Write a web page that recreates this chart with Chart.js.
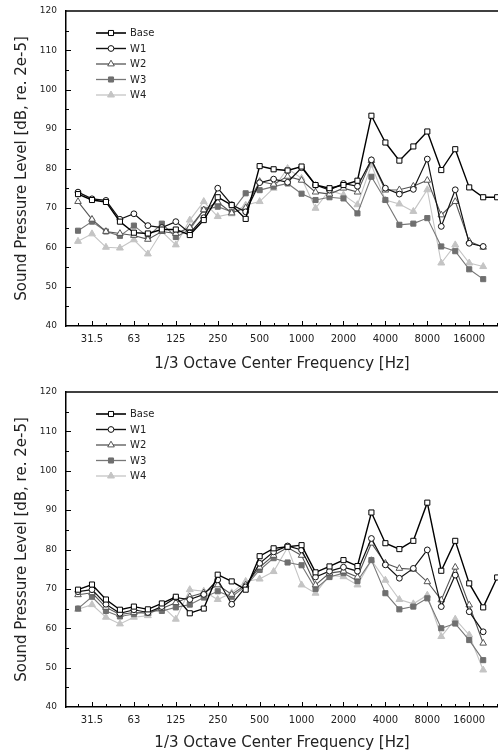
<!DOCTYPE html>
<html>
<head>
<meta charset="utf-8">
<script src="https://cdn.jsdelivr.net/npm/chart.js@4/dist/chart.umd.min.js"></script>
<style>
  body { margin: 0; background: #fff; }
  .box { position: absolute; left: 0; width: 498px; height: 376px; }
</style>
</head>
<body>
<div class="box" style="top:0"><canvas id="chartTop"></canvas></div>
<div class="box" style="top:376px"><canvas id="chartBottom"></canvas></div>
<script>
// 1/3 octave bands, index 0 = 25 Hz
const bands = ['25', '31.5', '40', '50', '63', '80', '100', '125', '160', '200', '250', '315', '400', '500',
  '630', '800', '1000', '1250', '1600', '2000', '2500', '3150', '4000', '5000', '6300', '8000',
  '10000', '12500', '16000', '20000', '25000'];
const tickLabels = ['31.5', '63', '125', '250', '500', '1000', '2000', '4000', '8000', '16000'];
const seriesNames = ['Base', 'W1', 'W2', 'W3', 'W4'];

// upper panel (dB)
const topBase = [73.5, 72, 71.5, 66.5, 63.7, 63.5, 64.5, 64.5, 63.1, 66.9, 72.7, 70.7, 67.2, 80.6, 79.8,
  79.5, 80.5, 75.8, 75, 75.8, 76.9, 93.4, 86.6, 82, 85.6, 89.4, 79.6, 84.9, 75.2, 72.7, 72.7];
const topW1 = [74, 72.3, 71.9, 67.1, 68.5, 65.5, 65, 66.5, 63.6, 67.5, 75, 70.8, 69, 76.4, 77.3,
  76.5, 80.2, 75.8, 74.5, 76.2, 75.5, 82.2, 75, 73.5, 74.7, 82.4, 65.3, 74.6, 61, 60.2];
const topW2 = [71.6, 67.1, 64, 63.5, 63, 62, 64, 63.5, 65, 69.5, 71.5, 68.7, 70, 76.7, 76,
  78, 77, 74, 73.5, 75, 74, 82, 74.5, 74.6, 75.5, 77, 68.2, 71.6, 61.5, 60];
const topW3 = [64.2, 66.5, 64, 62.9, 65.5, 62.7, 66, 62.6, 64.5, 69.5, 70.3, 69, 73.7, 74.5, 75.4,
  76.2, 73.6, 72, 72.7, 72.4, 68.6, 77.9, 72, 65.7, 66, 67.4, 60.2, 59, 54.4, 51.9];
const topW4 = [61.5, 63.4, 60, 59.8, 61.9, 58.3, 64, 60.6, 66.9, 71.6, 67.8, 68.5, 70.7, 71.6, 75,
  80, 77.5, 69.9, 74.5, 73.3, 70.8, 80.9, 72, 71, 69.1, 74.6, 56, 60.6, 56, 55.1];

// lower panel (dB)
const botBase = [69.8, 71.1, 67.3, 64.7, 65.5, 64.8, 66.3, 68, 63.8, 65, 73.6, 71.9, 69.8, 78.3, 80.3,
  80.7, 81.1, 74.2, 75.7, 77.3, 75.8, 89.4, 81.6, 80.1, 82.2, 91.9, 74.6, 82.2, 71.4, 65.3, 72.9];
const botW1 = [69.3, 69.8, 66.1, 63.8, 64.7, 64, 65.5, 67.8, 67.3, 68.6, 72.3, 66.1, 70.5, 76.5, 79.4,
  80.9, 79.9, 73, 74.5, 75.5, 74.5, 82.8, 76.1, 72.7, 75.2, 79.9, 65.5, 73.5, 64.2, 59.1];
const botW2 = [68.5, 69, 65.3, 63.5, 64, 63.8, 65, 66.5, 68, 69, 71, 68.6, 71, 75.5, 78.5,
  80.5, 78.5, 71, 74, 74.5, 73, 81.6, 76.5, 75.2, 75, 71.8, 67.2, 75.5, 65.9, 56.2];
const botW3 = [65, 68, 64.4, 63, 63.6, 64.4, 64.4, 65.3, 66, 67.8, 69.4, 68, 70.7, 74.8, 77.8,
  76.7, 76, 70, 73, 74, 72, 77.3, 68.9, 64.8, 65.5, 67.6, 60, 61.2, 57, 51.9];
const botW4 = [64.8, 66, 62.8, 61.1, 62.8, 63.2, 65.7, 62.3, 69.8, 69.4, 67.3, 69, 71.9, 72.5, 74.4,
  80.5, 71, 68.9, 73.5, 73.1, 71, 77.3, 72.2, 67.3, 66.2, 68.4, 57.9, 62.3, 58.3, 49.4];

const looks = [
  { line: '#000', point: 'rect', fill: '#fff', edge: '#000', r: 3.6, w: 1.4 },
  { line: '#111', point: 'circle', fill: '#fff', edge: '#111', r: 2.9, w: 1.2 },
  { line: '#555', point: 'triangle', fill: '#fff', edge: '#555', r: 3.8, w: 1.1 },
  { line: '#777', point: 'rect', fill: '#6f6f6f', edge: '#6f6f6f', r: 3.6, w: 1.1 },
  { line: '#c4c4c4', point: 'triangle', fill: '#c4c4c4', edge: '#c4c4c4', r: 4, w: 1.1 }
];

function marker(ctx, look, x, y) {
  const r = look.r;
  ctx.beginPath();
  if (look.point === 'circle') {
    ctx.arc(x, y, r, 0, Math.PI * 2);
  } else if (look.point === 'rect') {
    const s = r * Math.SQRT1_2;
    ctx.rect(x - s, y - s, 2 * s, 2 * s);
  } else {
    const h = r * 1.5;
    ctx.moveTo(x, y - r);
    ctx.lineTo(x + h * 0.58, y + r * 0.5);
    ctx.lineTo(x - h * 0.58, y + r * 0.5);
    ctx.closePath();
  }
  ctx.fillStyle = look.fill;
  ctx.fill();
  ctx.strokeStyle = look.edge;
  ctx.lineWidth = 1;
  ctx.stroke();
}

// top border, inward ticks and the in-plot legend
const frame = {
  id: 'frame',
  afterDraw(chart) {
    const { ctx, chartArea: a, scales: { x, y } } = chart;
    ctx.save();
    ctx.strokeStyle = '#000';
    ctx.lineWidth = 1.5;
    ctx.beginPath();
    ctx.moveTo(a.left, a.top);
    ctx.lineTo(a.right, a.top);
    ctx.stroke();

    ctx.lineWidth = 1;
    ctx.beginPath();
    bands.forEach((b, i) => {
      const px = Math.round(x.getPixelForValue(i)) + 0.5;
      const len = tickLabels.includes(b) ? 5 : 3;
      ctx.moveTo(px, a.bottom);
      ctx.lineTo(px, a.bottom - len);
    });
    for (let v = 45; v < 120; v += 5) {
      const py = Math.round(y.getPixelForValue(v)) + 0.5;
      const len = v % 10 === 0 ? 5 : 3;
      ctx.moveTo(a.left, py);
      ctx.lineTo(a.left + len, py);
    }
    ctx.stroke();

    ctx.font = '10px "DejaVu Sans"';
    ctx.textBaseline = 'middle';
    seriesNames.forEach((name, k) => {
      const look = looks[k];
      const ly = a.top + 22 + k * 15.5;
      const lx = a.left + 30;
      ctx.strokeStyle = look.line;
      ctx.lineWidth = look.w + 0.2;
      ctx.beginPath();
      ctx.moveTo(lx, ly);
      ctx.lineTo(lx + 30, ly);
      ctx.stroke();
      marker(ctx, look, lx + 15, ly);
      ctx.fillStyle = '#222';
      ctx.fillText(name, lx + 34, ly + 0.5);
    });
    ctx.restore();
  }
};

function makeChart(id, series, topPad, titlePad) {
  const ctx = document.getElementById(id).getContext('2d');
  return new Chart(ctx, {
    type: 'line',
    data: {
      datasets: series.map((vals, k) => ({
        label: seriesNames[k],
        data: vals.map((v, i) => ({ x: i, y: v })),
        borderColor: looks[k].line,
        borderWidth: looks[k].w,
        pointStyle: looks[k].point,
        pointRadius: looks[k].r,
        pointBackgroundColor: looks[k].fill,
        pointBorderColor: looks[k].edge,
        pointBorderWidth: 1,
        tension: 0,
        order: k
      })).reverse()
    },
    options: {
      responsive: true,
      maintainAspectRatio: false,
      animation: false,
      layout: { autoPadding: false, padding: { top: topPad, right: 0, left: 0, bottom: 0 } },
      plugins: { legend: { display: false }, tooltip: { enabled: false } },
      scales: {
        x: {
          type: 'linear',
          min: -0.86,
          max: 30.06,
          afterBuildTicks: (s) => {
            s.ticks = tickLabels.map((t) => ({ value: bands.indexOf(t) }));
          },
          afterFit: (s) => {
            s.height = 376 - 326 - topPad + 11;
            s.paddingLeft = 0;
            s.paddingRight = 0;
          },
          ticks: {
            autoSkip: false,
            maxRotation: 0,
            padding: 7,
            color: '#222',
            font: { family: 'DejaVu Sans', size: 10 },
            callback: (v) => bands[v]
          },
          grid: { drawOnChartArea: false, drawTicks: false },
          border: { color: '#000', width: 1.5 },
          title: {
            display: true,
            text: '1/3 Octave Center Frequency [Hz]',
            color: '#222',
            font: { family: 'DejaVu Sans', size: 15 },
            padding: { top: 0, bottom: titlePad }
          }
        },
        y: {
          min: 40,
          max: 120,
          afterFit: (s) => {
            s.width = 66;
            s.paddingTop = 0;
            s.paddingBottom = 0;
          },
          ticks: {
            stepSize: 10,
            padding: 9,
            color: '#222',
            font: { family: 'DejaVu Sans', size: 9 }
          },
          grid: { drawOnChartArea: false, drawTicks: false },
          border: { color: '#000', width: 1.5 },
          title: {
            display: true,
            text: 'Sound Pressure Level [dB, re. 2e-5]',
            color: '#222',
            font: { family: 'DejaVu Sans', size: 15 },
            padding: { top: 13, bottom: 0 }
          }
        }
      }
    },
    plugins: [frame]
  });
}

makeChart('chartTop', [topBase, topW1, topW2, topW3, topW4], 11, 3);
makeChart('chartBottom', [botBase, botW1, botW2, botW3, botW4], 16, 0);
</script>
</body>
</html>
